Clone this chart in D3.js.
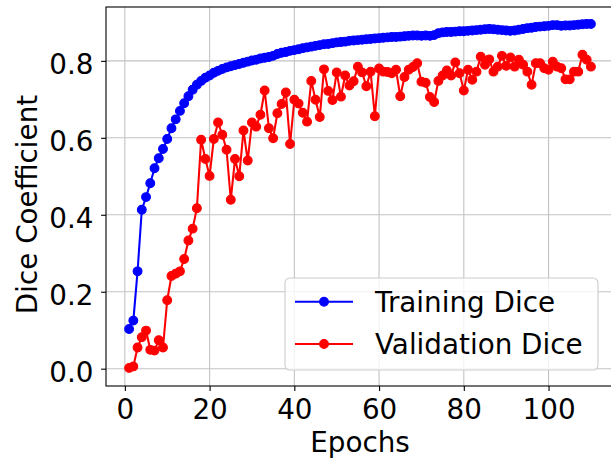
<!DOCTYPE html>
<html>
<head>
<meta charset="utf-8">
<script src="https://cdn.jsdelivr.net/npm/d3@7"></script>
<style>
  body { margin: 0; background: #fff; }
  text { font-family: "DejaVu Sans", sans-serif; fill: #000; }
</style>
</head>
<body>
<svg id="chart" width="611" height="461"></svg>
<script>
// Dice coefficient per epoch (epochs 1..110)
const trainingDice = [
  0.103, 0.125, 0.253, 0.413, 0.446, 0.482, 0.521, 0.547, 0.571, 0.597,
  0.625, 0.648, 0.670, 0.690, 0.708, 0.725, 0.738, 0.748, 0.756, 0.762,
  0.769, 0.774, 0.779, 0.783, 0.786, 0.789, 0.792, 0.795, 0.798, 0.801,
  0.803, 0.806, 0.808, 0.810, 0.813, 0.818, 0.821, 0.823, 0.826, 0.828,
  0.830, 0.833, 0.835, 0.837, 0.839, 0.841, 0.843, 0.844, 0.846, 0.848,
  0.849, 0.850, 0.852, 0.853, 0.854, 0.855, 0.856, 0.857, 0.858, 0.859,
  0.860, 0.861, 0.862, 0.862, 0.863, 0.864, 0.865, 0.866, 0.866, 0.865,
  0.866, 0.865, 0.867, 0.872, 0.874, 0.875, 0.875, 0.876, 0.877, 0.877,
  0.878, 0.879, 0.880, 0.881, 0.882, 0.883, 0.882, 0.881, 0.880, 0.879,
  0.878, 0.879, 0.881, 0.883, 0.885, 0.886, 0.888, 0.889, 0.890, 0.891,
  0.893, 0.893, 0.891, 0.892, 0.892, 0.893, 0.894, 0.895, 0.896, 0.896
];

const validationDice = [
  0.002, 0.006, 0.055, 0.082, 0.099, 0.049, 0.047, 0.074, 0.055, 0.178,
  0.241, 0.247, 0.253, 0.285, 0.333, 0.364, 0.417, 0.595, 0.545, 0.501,
  0.597, 0.640, 0.608, 0.569, 0.439, 0.545, 0.500, 0.619, 0.541, 0.640,
  0.629, 0.660, 0.723, 0.625, 0.599, 0.664, 0.688, 0.718, 0.584, 0.699,
  0.689, 0.665, 0.642, 0.748, 0.699, 0.654, 0.778, 0.722, 0.698, 0.770,
  0.707, 0.762, 0.736, 0.747, 0.785, 0.770, 0.734, 0.772, 0.656, 0.780,
  0.772, 0.771, 0.768, 0.777, 0.708, 0.758, 0.777, 0.784, 0.794, 0.746,
  0.743, 0.706, 0.693, 0.748, 0.762, 0.775, 0.762, 0.796, 0.768, 0.723,
  0.777, 0.751, 0.772, 0.811, 0.790, 0.804, 0.772, 0.785, 0.813, 0.787,
  0.809, 0.785, 0.803, 0.790, 0.772, 0.738, 0.794, 0.794, 0.781, 0.777,
  0.798, 0.785, 0.781, 0.752, 0.752, 0.772, 0.772, 0.816, 0.803, 0.785
];

const seriesNames = ["Training Dice", "Validation Dice"];
const seriesColors = ["#0000ff", "#ff0000"];
const xTicks = [0, 20, 40, 60, 80, 100];
const yTicks = [0.0, 0.2, 0.4, 0.6, 0.8];
const xLabel = "Epochs";
const yLabel = "Dice Coefficient";

const FONT = 27.8;
const MARKER_R = 4.4;
const plot = { left: 106, right: 614, top: 7, bottom: 386 };

const svg = d3.select("#chart");
svg.append("rect").attr("width", 611).attr("height", 461).attr("fill", "#fff");

const x = d3.scaleLinear().domain([-4.45, 115.45]).range([plot.left, plot.right]);
const y = d3.scaleLinear().domain([-0.045, 0.94]).range([plot.bottom, plot.top]);

// grid
const grid = svg.append("g").attr("stroke", "#b0b0b0").attr("stroke-width", 1.1).attr("opacity", 0.75);
grid.selectAll("line.v").data(xTicks).join("line")
  .attr("x1", d => x(d)).attr("x2", d => x(d))
  .attr("y1", plot.top).attr("y2", plot.bottom);
grid.selectAll("line.h").data(yTicks).join("line")
  .attr("x1", plot.left).attr("x2", plot.right)
  .attr("y1", d => y(d)).attr("y2", d => y(d));

// series
const series = [trainingDice, validationDice].map((vals, k) => ({
  name: seriesNames[k],
  color: seriesColors[k],
  points: vals.map((v, i) => ({ epoch: i + 1, value: v }))
}));

const line = d3.line().x(d => x(d.epoch)).y(d => y(d.value));
series.forEach(s => {
  const g = svg.append("g");
  g.append("path").datum(s.points)
    .attr("d", line).attr("fill", "none")
    .attr("stroke", s.color).attr("stroke-width", 2.08)
    .attr("stroke-linejoin", "round");
  g.selectAll("circle").data(s.points).join("circle")
    .attr("cx", d => x(d.epoch)).attr("cy", d => y(d.value))
    .attr("r", MARKER_R).attr("fill", s.color)
    .attr("stroke", s.color).attr("stroke-width", 1.1);
});

// axes
const xAxis = svg.append("g").attr("transform", `translate(0,${plot.bottom})`)
  .call(d3.axisBottom(x).tickValues(xTicks).tickSize(4.9).tickPadding(4.9).tickSizeOuter(0));
xAxis.selectAll("text").attr("font-size", FONT).attr("dy", "0.83em").style("fill", "#000");

const yAxis = svg.append("g").attr("transform", `translate(${plot.left},0)`)
  .call(d3.axisLeft(y).tickValues(yTicks).tickFormat(d3.format(".1f")).tickSize(4.9).tickPadding(7.6).tickSizeOuter(0));
yAxis.selectAll("text").attr("font-size", FONT).attr("dy", "0.45em").style("fill", "#000");

[xAxis, yAxis].forEach(a => {
  a.attr("font-family", null);
  a.selectAll(".tick line").attr("stroke", "#000").attr("stroke-width", 1.1);
  a.select(".domain").remove();
});

// frame
svg.append("rect")
  .attr("x", plot.left).attr("y", plot.top)
  .attr("width", plot.right - plot.left).attr("height", plot.bottom - plot.top)
  .attr("fill", "none").attr("stroke", "#000").attr("stroke-width", 1.1);

// axis labels
svg.append("text").attr("x", (plot.left + plot.right) / 2).attr("y", 452)
  .attr("text-anchor", "middle").attr("font-size", FONT).text(xLabel);
svg.append("text")
  .attr("transform", `translate(37,${(plot.top + plot.bottom) / 2 + 8}) rotate(-90)`)
  .attr("text-anchor", "middle").attr("font-size", FONT).text(yLabel);

// legend
const legend = svg.append("g");
legend.append("rect")
  .attr("x", 285).attr("y", 278).attr("width", 313).attr("height", 92)
  .attr("rx", 5).attr("fill", "#fff").attr("fill-opacity", 0.8)
  .attr("stroke", "#cccccc").attr("stroke-width", 1.1);
const rowY = [301.7, 344];
series.forEach((s, k) => {
  const row = legend.append("g").attr("transform", `translate(0,${rowY[k]})`);
  row.append("line").attr("x1", 295).attr("x2", 353).attr("y1", 0).attr("y2", 0)
    .attr("stroke", s.color).attr("stroke-width", 2.08);
  row.append("circle").attr("cx", 324).attr("cy", 0).attr("r", MARKER_R)
    .attr("fill", s.color).attr("stroke", s.color).attr("stroke-width", 1.1);
  row.append("text").attr("x", 375).attr("y", 0).attr("dy", "0.36em")
    .attr("font-size", FONT).text(s.name);
});
</script>
</body>
</html>
